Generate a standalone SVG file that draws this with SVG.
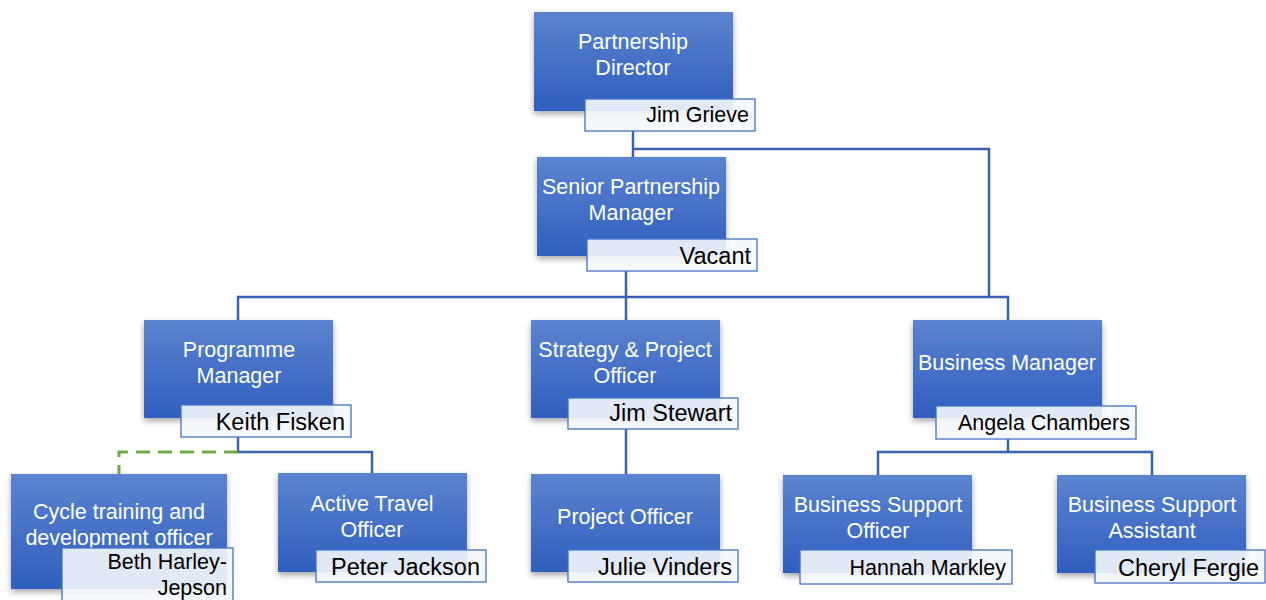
<svg xmlns="http://www.w3.org/2000/svg" width="1266" height="600" viewBox="0 0 1266 600">
<defs>
<linearGradient id="g" x1="0" y1="0" x2="0" y2="1">
<stop offset="0" stop-color="#5b83cf"/>
<stop offset="1" stop-color="#2f5fbe"/>
</linearGradient>
<filter id="sh" x="-10%" y="-10%" width="125%" height="130%">
<feDropShadow dx="0" dy="3" stdDeviation="3" flood-color="#000" flood-opacity="0.35"/>
</filter>
</defs>
<style>
.box{fill:url(#g);filter:url(#sh)}
.nm{fill:#f4f7fc;fill-opacity:0.9;stroke:#4472c4;stroke-width:1.3}
.t{font-family:"Liberation Sans",Arial,sans-serif;font-size:21.5px;fill:#ffffff;text-anchor:middle}
.n{font-family:"Liberation Sans",Arial,sans-serif;font-size:23.5px;fill:#000000;text-anchor:end}
.s{font-size:21.5px}
.ln{fill:none;stroke:#3a62b0;stroke-width:2.5}
.gd{fill:none;stroke:#70ad47;stroke-width:3;stroke-dasharray:14,8}
</style>
<rect width="1266" height="600" fill="#ffffff"/>
<g id="connectors">
<path class="ln" d="M633,131 V157"/>
<path class="ln" d="M633,149 H989 V297"/>
<path class="ln" d="M626,271 V297"/>
<path class="ln" d="M238,320 V297 H1008 V320"/>
<path class="ln" d="M626,297 V320"/>
<path class="ln" d="M238,437 V452 H372 V473"/>
<path class="gd" d="M238,452 H119 V474"/>
<path class="ln" d="M626,429 V474"/>
<path class="ln" d="M1008,439 V452"/>
<path class="ln" d="M878,475 V452 H1152 V475"/>
</g>
<g id="partnership-director">
<rect class="box" x="534" y="12" width="199" height="99"/>
<text class="t" x="633" y="49">Partnership</text>
<text class="t" x="633" y="75">Director</text>
<rect class="nm" x="585" y="99" width="170" height="32"/>
<text class="n s" x="749" y="122">Jim Grieve</text>
</g>
<g id="senior-partnership-manager">
<rect class="box" x="537" y="157" width="189" height="99"/>
<text class="t" x="631" y="194">Senior Partnership</text>
<text class="t" x="631" y="220">Manager</text>
<rect class="nm" x="587" y="239" width="170" height="32"/>
<text class="n" x="751" y="264">Vacant</text>
</g>
<g id="programme-manager">
<rect class="box" x="144" y="320" width="189" height="98"/>
<text class="t" x="239" y="357">Programme</text>
<text class="t" x="239" y="383">Manager</text>
<rect class="nm" x="181" y="405" width="170" height="32"/>
<text class="n" x="345" y="430">Keith Fisken</text>
</g>
<g id="strategy-project-officer">
<rect class="box" x="531" y="320" width="189" height="98"/>
<text class="t" x="625" y="357">Strategy &amp; Project</text>
<text class="t" x="625" y="383">Officer</text>
<rect class="nm" x="568" y="398" width="170" height="31"/>
<text class="n" x="732" y="421">Jim Stewart</text>
</g>
<g id="business-manager">
<rect class="box" x="913" y="320" width="189" height="98"/>
<text class="t" x="1007" y="370">Business Manager</text>
<rect class="nm" x="936" y="406" width="200" height="33"/>
<text class="n s" x="1130" y="430">Angela Chambers</text>
</g>
<g id="cycle-training-officer">
<rect class="box" x="11" y="474" width="216" height="115"/>
<text class="t" x="119" y="519">Cycle training and</text>
<text class="t" x="119" y="545">development officer</text>
<rect class="nm" x="62" y="548" width="171" height="56"/>
<text class="n s" x="227" y="569">Beth Harley-</text>
<text class="n s" x="227" y="595">Jepson</text>
</g>
<g id="active-travel-officer">
<rect class="box" x="278" y="473" width="189" height="99"/>
<text class="t" x="372" y="511">Active Travel</text>
<text class="t" x="372" y="537">Officer</text>
<rect class="nm" x="316" y="550" width="170" height="32"/>
<text class="n" x="480" y="575">Peter Jackson</text>
</g>
<g id="project-officer">
<rect class="box" x="531" y="474" width="189" height="98"/>
<text class="t" x="625" y="524">Project Officer</text>
<rect class="nm" x="568" y="550" width="170" height="32"/>
<text class="n" x="732" y="575">Julie Vinders</text>
</g>
<g id="business-support-officer">
<rect class="box" x="783" y="475" width="189" height="98"/>
<text class="t" x="878" y="512">Business Support</text>
<text class="t" x="878" y="538">Officer</text>
<rect class="nm" x="800" y="550" width="212" height="34"/>
<text class="n s" x="1006" y="575">Hannah Markley</text>
</g>
<g id="business-support-assistant">
<rect class="box" x="1057" y="475" width="189" height="98"/>
<text class="t" x="1152" y="512">Business Support</text>
<text class="t" x="1152" y="538">Assistant</text>
<rect class="nm" x="1095" y="550" width="170" height="33"/>
<text class="n" x="1259" y="576">Cheryl Fergie</text>
</g>
</svg>
